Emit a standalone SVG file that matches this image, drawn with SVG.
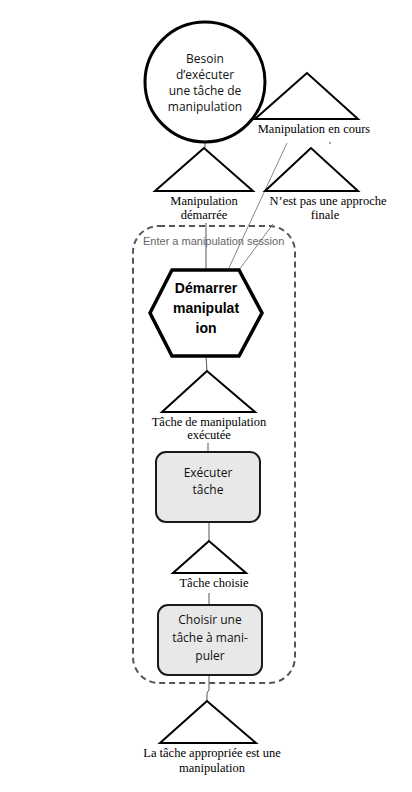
<svg xmlns="http://www.w3.org/2000/svg" width="412" height="792" viewBox="0 0 412 792">
<style>
.tri{fill:#fff;stroke:#000;stroke-width:2}
.lbl{font-family:"Liberation Serif",serif;font-size:12.5px;fill:#000;text-anchor:middle}
.sans{font-family:"Open Sans","Liberation Sans",sans-serif;font-size:12px;fill:#111;text-anchor:middle}
.box{fill:#e8e8e8;stroke:#1a1a1a;stroke-width:2}
.conn{stroke:#555;stroke-width:1;fill:none}
.conng{stroke:#888;stroke-width:1;fill:none}
</style>
<rect width="412" height="792" fill="#fff"/>
<g id="connectors">
<line class="conn" x1="205" y1="142" x2="205" y2="148"/>
<line class="conn" x1="206" y1="223" x2="206" y2="270"/>
<line class="conng" x1="287" y1="143" x2="228" y2="270"/>
<line class="conng" x1="273" y1="224" x2="239" y2="270"/>
<line class="conn" x1="206" y1="356" x2="207" y2="371"/>
<line class="conn" x1="208" y1="443" x2="208" y2="452"/>
<line class="conn" x1="209" y1="522" x2="209" y2="541"/>
<line class="conn" x1="209" y1="593" x2="209" y2="605"/>
<polyline class="conn" points="209,675 209,690 207,693 207,701"/>
</g>
<g id="session">
<rect x="133" y="226" width="162" height="457" rx="26" ry="26" fill="none" stroke="#555" stroke-width="2" stroke-dasharray="6,4"/>
<text x="143" y="245" font-family="'Liberation Sans',sans-serif" font-size="11" fill="#666">Enter a manipulation session</text>
</g>
<g id="besoin">
<circle cx="205" cy="82" r="60" fill="#fff" stroke="#000" stroke-width="3"/>
<text class="sans" x="205" y="63">Besoin</text>
<text class="sans" x="205" y="79">d’exécuter</text>
<text class="sans" x="205" y="95">une tâche de</text>
<text class="sans" x="205" y="111">manipulation</text>
</g>
<g id="manip-en-cours">
<polygon class="tri" points="307,73 255,119 358,119"/>
<text class="lbl" x="314" y="133">Manipulation en cours</text>
<circle cx="330" cy="143" r="0.8" fill="#333"/>
</g>
<g id="manip-demarree">
<polygon class="tri" points="204,148 155,191 253,191"/>
<text class="lbl" x="204" y="205">Manipulation</text>
<text class="lbl" x="204" y="219">démarrée</text>
</g>
<g id="pas-approche">
<polygon class="tri" points="311,148 265,191 358,191"/>
<text class="lbl" x="328" y="205">N’est pas une approche</text>
<text class="lbl" x="325" y="219">finale</text>
</g>
<g id="demarrer">
<polygon points="172,270 239,270 262,313 239,356 172,356 150,313" fill="#fff" stroke="#000" stroke-width="3.5"/>
<text x="206" y="293" font-family="'Liberation Sans',sans-serif" font-size="14" font-weight="bold" text-anchor="middle">Démarrer</text>
<text x="206" y="313" font-family="'Liberation Sans',sans-serif" font-size="14" font-weight="bold" text-anchor="middle">manipulat</text>
<text x="206" y="333" font-family="'Liberation Sans',sans-serif" font-size="14" font-weight="bold" text-anchor="middle">ion</text>
</g>
<g id="tache-executee">
<polygon class="tri" points="207,371 162,412 255,412"/>
<text class="lbl" x="209" y="426">Tâche de manipulation</text>
<text class="lbl" x="209" y="439">exécutée</text>
</g>
<g id="executer">
<rect class="box" x="156" y="452" width="104" height="70" rx="10" ry="10"/>
<text class="sans" x="208" y="477" font-size="13">Exécuter</text>
<text class="sans" x="208" y="494" font-size="13">tâche</text>
</g>
<g id="tache-choisie">
<polygon class="tri" points="209,541 173,573 246,573"/>
<text class="lbl" x="214" y="587">Tâche choisie</text>
</g>
<g id="choisir">
<rect class="box" x="158" y="605" width="104" height="70" rx="10" ry="10"/>
<text class="sans" x="210" y="624" font-size="13">Choisir une</text>
<text class="sans" x="210" y="642" font-size="13">tâche à mani-</text>
<text class="sans" x="210" y="660" font-size="13">puler</text>
</g>
<g id="tache-appropriee">
<polygon class="tri" points="207,701 160,743 256,743"/>
<text class="lbl" x="212" y="757">La tâche appropriée est une</text>
<text class="lbl" x="212" y="772">manipulation</text>
</g>
</svg>
